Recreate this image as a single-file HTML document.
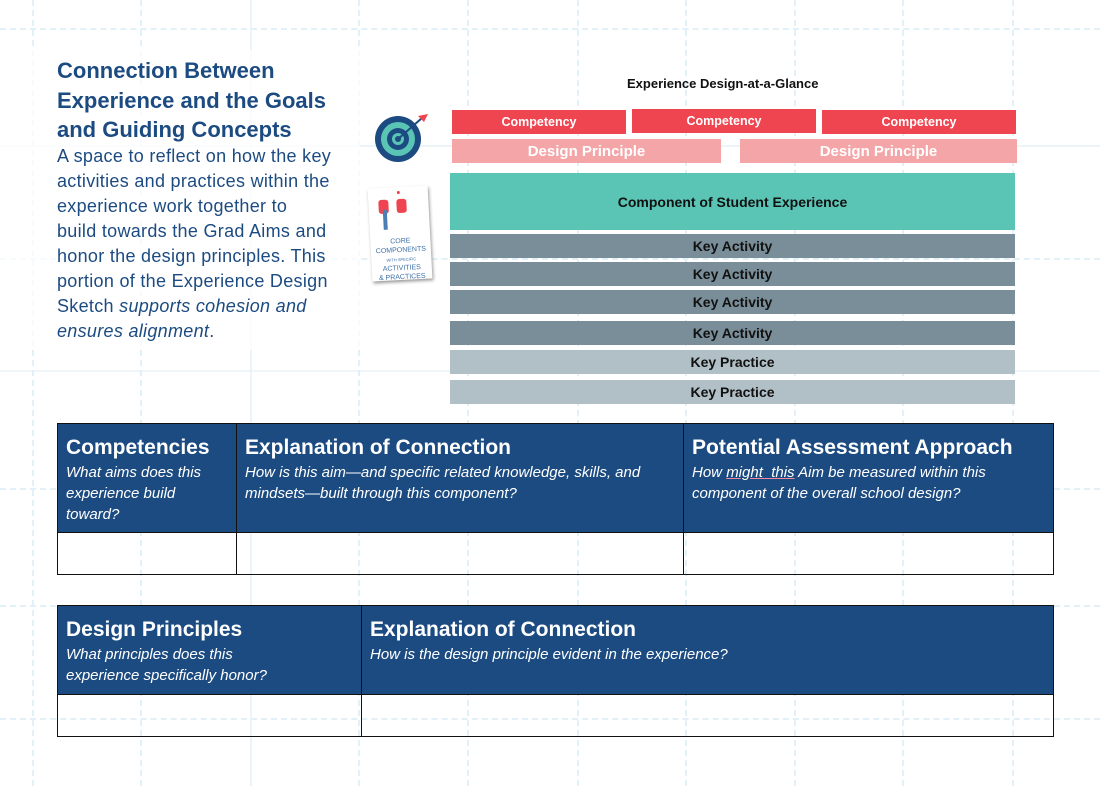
<!DOCTYPE html>
<html><head><meta charset="utf-8"><style>
*{margin:0;padding:0;box-sizing:border-box}
body{width:1100px;height:786px;position:relative;background:#fff;font-family:"Liberation Sans",sans-serif;overflow:hidden}
.a{position:absolute}
.vl{position:absolute;top:0;width:0;height:786px;border-left:2px dashed #e2f0f7}
.hl{position:absolute;left:0;height:0;width:1100px;border-top:2px dashed #e2f0f7}
.bar{position:absolute;display:flex;align-items:center;justify-content:center;font-weight:bold;font-size:14px}
.red{background:#ef4550;color:#fff;font-size:12.5px}
.pink{background:#f4a5a8;color:#fff;font-size:15px}
.ka{background:#7a8e99;color:#111}
.kp{background:#b1bfc6;color:#111}
.hd{position:absolute;background:#1c4b81;color:#fff;border:1px solid #111;padding:10px 8px}
.hd b{display:block;font-size:21px;line-height:28px}
.hd i{display:block;font-size:15px;line-height:21px}
.cell{position:absolute;border:1px solid #111;background:transparent}
</style></head><body>
<div class="vl" style="left:32px"></div><div class="vl" style="left:140px"></div>
<div class="vl" style="left:250px;border-left-style:solid;opacity:.7"></div>
<div class="vl" style="left:358px"></div><div class="vl" style="left:467px"></div>
<div class="vl" style="left:577px"></div><div class="vl" style="left:685px"></div>
<div class="vl" style="left:794px"></div><div class="vl" style="left:902px"></div>
<div class="vl" style="left:1012px"></div>
<div class="hl" style="top:28px"></div><div class="hl" style="top:145px;border-top-style:solid;opacity:.7"></div>
<div class="hl" style="top:258px"></div><div class="hl" style="top:370px;border-top-style:solid;opacity:.6"></div>
<div class="hl" style="top:488px"></div><div class="hl" style="top:605px"></div><div class="hl" style="top:718px"></div>

<div class="a" style="left:0;top:50px;width:360px;height:300px;background:rgba(255,255,255,.75)"></div>
<div class="a" style="left:57px;top:56px;width:300px;color:#1c4b81;font-weight:bold;font-size:22px;line-height:29.5px">Connection Between Experience and the Goals and Guiding Concepts</div>
<div class="a" style="left:57px;top:144px;width:300px;color:#1c4b81;font-size:18px;line-height:25px;letter-spacing:0.3px;white-space:nowrap">A space to reflect on how the key<br>activities and practices within the<br>experience work together to<br>build towards the Grad Aims and<br>honor the design principles. This<br>portion of the Experience Design<br>Sketch <i>supports cohesion and<br>ensures alignment</i>.</div>

<svg class="a" style="left:372px;top:110px" width="60" height="56" viewBox="0 0 60 56">
<circle cx="26" cy="29" r="23" fill="#1c4b81"/><circle cx="26" cy="29" r="17" fill="#5bc5b5"/>
<circle cx="26" cy="29" r="11" fill="#1c4b81"/><circle cx="26" cy="29" r="6" fill="#5bc5b5"/><circle cx="26" cy="29" r="3" fill="#1c4b81"/>
<line x1="26" y1="29" x2="50" y2="8" stroke="#1c4b81" stroke-width="2"/><path d="M46 6 L56 4 L52 12 Z" fill="#ef4550"/></svg>

<div class="a" style="left:370px;top:187px;width:60px;height:93px;background:#fff;box-shadow:1px 2px 3px #999;transform:rotate(-3deg);text-align:center;color:#3d6fa8;font-size:7px;line-height:9px;padding-top:50px">CORE COMPONENTS<br><span style="font-size:4px">WITH SPECIFIC</span><br>ACTIVITIES<br>&amp; PRACTICES
<div class="a" style="left:10px;top:12px;width:10px;height:14px;background:#ef4550;border-radius:3px"></div>
<div class="a" style="left:14px;top:22px;width:4px;height:20px;background:#4a7fb5"></div>
<div class="a" style="left:28px;top:12px;width:10px;height:14px;background:#ef4550;border-radius:3px"></div>
<div class="a" style="left:29px;top:4px;width:3px;height:3px;background:#ef4550;border-radius:50%"></div>
</div>

<div class="a" style="left:627px;top:76px;font-size:13px;font-weight:bold;color:#111">Experience Design-at-a-Glance</div>
<div class="bar red" style="left:452px;top:110px;width:174px;height:24px">Competency</div>
<div class="bar red" style="left:632px;top:109px;width:184px;height:24px">Competency</div>
<div class="bar red" style="left:822px;top:110px;width:194px;height:24px">Competency</div>
<div class="bar pink" style="left:452px;top:139px;width:269px;height:24px">Design Principle</div>
<div class="bar pink" style="left:740px;top:139px;width:277px;height:24px">Design Principle</div>
<div class="bar" style="left:450px;top:173px;width:565px;height:57px;background:#5bc5b5;color:#111">Component of Student Experience</div>
<div class="bar ka" style="left:450px;top:234px;width:565px;height:24px">Key Activity</div>
<div class="bar ka" style="left:450px;top:262px;width:565px;height:24px">Key Activity</div>
<div class="bar ka" style="left:450px;top:290px;width:565px;height:24px">Key Activity</div>
<div class="bar ka" style="left:450px;top:321px;width:565px;height:24px">Key Activity</div>
<div class="bar kp" style="left:450px;top:350px;width:565px;height:24px">Key Practice</div>
<div class="bar kp" style="left:450px;top:380px;width:565px;height:24px">Key Practice</div>

<div class="hd" style="left:57px;top:423px;width:180px;height:110px"><b>Competencies</b><i>What aims does this<br>experience build<br>toward?</i></div>
<div class="hd" style="left:236px;top:423px;width:448px;height:110px"><b>Explanation of Connection</b><i>How is this aim—and specific related knowledge, skills, and<br>mindsets—built through this component?</i></div>
<div class="hd" style="left:683px;top:423px;width:371px;height:110px"><b>Potential Assessment Approach</b><i>How <span style="text-decoration:underline;text-decoration-color:#f08aa0">might&nbsp; this</span> Aim be measured within this<br>component of the overall school design?</i></div>
<div class="cell" style="left:57px;top:532px;width:180px;height:43px"></div>
<div class="cell" style="left:236px;top:532px;width:448px;height:43px"></div>
<div class="cell" style="left:683px;top:532px;width:371px;height:43px"></div>

<div class="hd" style="left:57px;top:605px;width:305px;height:90px"><b>Design Principles</b><i>What principles does this<br>experience specifically honor?</i></div>
<div class="hd" style="left:361px;top:605px;width:693px;height:90px"><b>Explanation of Connection</b><i>How is the design principle evident in the experience?</i></div>
<div class="cell" style="left:57px;top:694px;width:305px;height:43px"></div>
<div class="cell" style="left:361px;top:694px;width:693px;height:43px"></div>
</body></html>
